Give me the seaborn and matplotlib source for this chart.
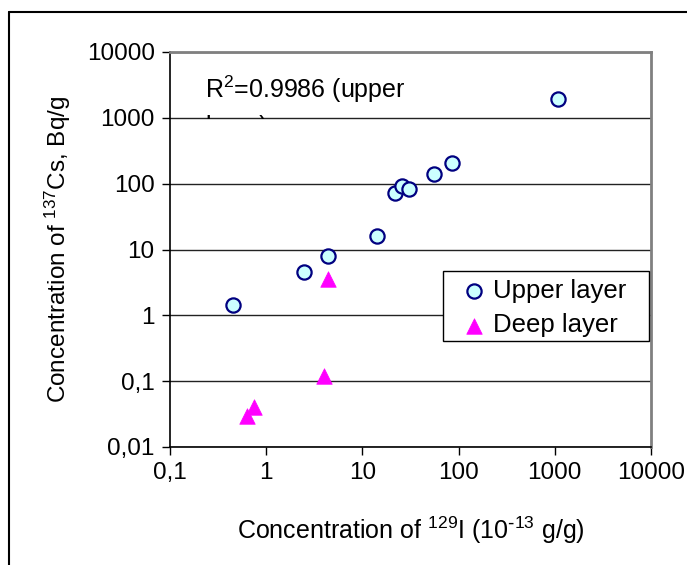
import numpy as np
import pandas as pd
import seaborn as sns
import matplotlib.pyplot as plt
from matplotlib.lines import Line2D
from matplotlib.patches import Rectangle
from matplotlib.transforms import Bbox

# Upper layer samples (129I vs 137Cs)
upper_i129 = [0.45, 2.47, 4.39, 14.2, 21.8, 25.6, 30.5, 55.9, 86.0, 1087.0]
upper_cs137 = [1.44, 4.57, 8.0, 16.1, 71.7, 92.6, 82.4, 141.0, 207.0, 1944.0]

# Deep layer samples
deep_i129 = [4.36, 3.96, 0.75, 0.63]
deep_cs137 = [3.57, 0.12, 0.041, 0.030]

x_ticks = [0.1, 1, 10, 100, 1000, 10000]
x_ticklabels = ["0,1", "1", "10", "100", "1000", "10000"]
y_ticks = [0.01, 0.1, 1, 10, 100, 1000, 10000]
y_ticklabels = ["0,01", "0,1", "1", "10", "100", "1000", "10000"]

sns.set_style("white")
plt.rcParams['font.family'] = ['Liberation Sans', 'DejaVu Sans']
plt.rcParams['mathtext.default'] = 'regular'
for key in ['text.color', 'axes.labelcolor', 'xtick.color', 'ytick.color']:
    plt.rcParams[key] = 'black'

upper = pd.DataFrame({"I129": upper_i129, "Cs137": upper_cs137})
deep = pd.DataFrame({"I129": deep_i129, "Cs137": deep_cs137})

W, H = 687, 565
fig = plt.figure(figsize=(W / 100, H / 100), dpi=100)
ax = fig.add_axes([170 / W, 1 - 447 / H, 481 / W, 395 / H])

ax.set_xscale("log")
ax.set_yscale("log")

sns.scatterplot(data=upper, x="I129", y="Cs137", ax=ax, marker="o", s=105,
                color="#CCFFFF", edgecolor="#000080", linewidth=1.6,
                label="Upper layer", zorder=3)
sns.scatterplot(data=deep, x="I129", y="Cs137", ax=ax, marker="^", s=125,
                color="#FF00FF", edgecolor="#FF00FF", linewidth=0.5,
                label="Deep layer", zorder=3)

ax.set_xlim(0.1, 10000)
ax.set_ylim(0.01, 10000)
ax.set_xticks(x_ticks)
ax.set_xticklabels(x_ticklabels)
ax.set_yticks(y_ticks)
ax.set_yticklabels(y_ticklabels)
ax.minorticks_off()
ax.tick_params(axis="both", which="major", labelsize=17.5, direction="out",
               length=6, width=1, color="black", pad=5,
               bottom=True, left=True)

# horizontal gridlines only
ax.yaxis.grid(True, color="#222222", linewidth=1)
ax.xaxis.grid(False)
ax.set_axisbelow(True)

for side in ["left", "bottom"]:
    ax.spines[side].set_color("black")
    ax.spines[side].set_linewidth(1.2)
for side in ["top", "right"]:
    ax.spines[side].set_color("#808080")
    ax.spines[side].set_linewidth(2)

ax.set_xlabel(r"Concentration of $^{129}$I (10$^{\text{-}13}$ g/g)", fontsize=18, labelpad=22)
ax.set_ylabel("Concentration of $^{137}$Cs, Bq/g", fontsize=17.5, labelpad=10)

# R^2 annotation; its second line is hidden below the gridline
fig.text(205 / W, 1 - 98 / H, "R$^2$=0.9986 (upper", fontsize=18,
         va="baseline", ha="left", zorder=1)
r2b = fig.text(205 / W, 1 - 134 / H, "layer)", fontsize=18,
               va="baseline", ha="left", zorder=1)
r2b.set_clip_box(Bbox.from_extents(0, H - 119, W, H))
r2b.set_clip_on(True)

# legend box drawn as a plain rectangle, entries placed inside it
def px_to_ax(x, y):
    return (x - 170) / 481, (447 - y) / 395

bx0, by0 = px_to_ax(443, 341)
bx1, by1 = px_to_ax(649, 271)
ax.add_patch(Rectangle((bx0, by0), bx1 - bx0, by1 - by0, transform=ax.transAxes,
                       facecolor="white", edgecolor="black", linewidth=1, zorder=4))

lx, ly = px_to_ax(461, 279)
leg = ax.legend(loc="upper left", bbox_to_anchor=(lx, ly), fontsize=18.5,
                frameon=False, borderpad=0, borderaxespad=0, handlelength=1.0,
                handletextpad=0.25, labelspacing=0.4)
leg.set_zorder(5)

# outer chart border (left and top visible)
fig.add_artist(Line2D([9 / W, 9 / W], [0, 1 - 12 / H], transform=fig.transFigure,
                      color="black", linewidth=1.5))
fig.add_artist(Line2D([9 / W, 1], [1 - 12 / H, 1 - 12 / H], transform=fig.transFigure,
                      color="black", linewidth=1.5))

fig.savefig("out.png", dpi=100)
